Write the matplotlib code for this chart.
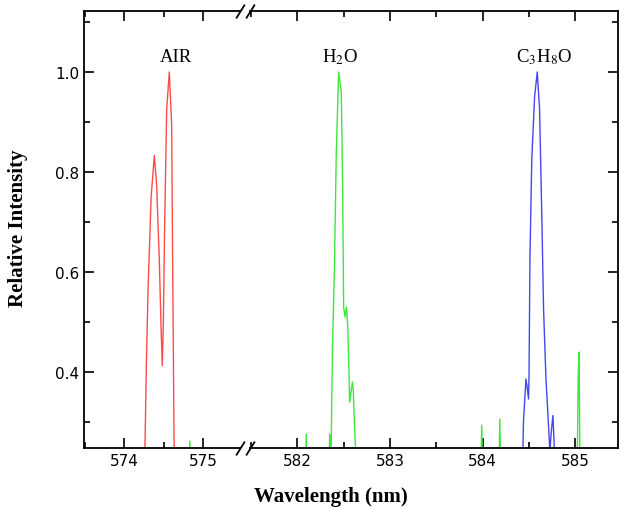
import matplotlib
matplotlib.use("Agg")
import matplotlib.pyplot as plt
from matplotlib.ticker import MultipleLocator

plt.rcParams['mathtext.fontset'] = 'stix'

# spectra (values below 0.25 sit under the axis and are clipped, like the original)
air_wl = [574.255, 574.262, 574.28, 574.30, 574.34, 574.38, 574.41, 574.443, 574.465,
          574.481, 574.494, 574.511, 574.537, 574.57, 574.60, 574.612, 574.63, 574.64]
air_int = [0.20, 0.25, 0.42, 0.56, 0.75, 0.833, 0.773, 0.626, 0.493,
           0.413, 0.493, 0.693, 0.926, 1.0, 0.893, 0.626, 0.266, 0.20]

h2o_wl = [574.82, 574.83, 574.84,
          582.09, 582.097, 582.105, 582.34, 582.35, 582.36,
          582.365, 582.38, 582.40, 582.42, 582.446, 582.475, 582.49, 582.50, 582.515,
          582.53, 582.545, 582.555, 582.565, 582.58, 582.595, 582.605, 582.62, 582.64,
          583.98, 583.99, 584.0, 584.175, 584.185, 584.195,
          585.02, 585.03, 585.04, 585.05]
h2o_int = [0.20, 0.262, 0.20,
           0.20, 0.276, 0.20, 0.20, 0.276, 0.22,
           0.24, 0.45, 0.60, 0.83, 1.0, 0.96, 0.76, 0.53, 0.51,
           0.53, 0.49, 0.42, 0.34, 0.36, 0.38, 0.36, 0.28, 0.20,
           0.20, 0.293, 0.20, 0.20, 0.306, 0.20,
           0.20, 0.39, 0.44, 0.20]

c3h8o_wl = [584.43, 584.44, 584.467, 584.48, 584.495, 584.50, 584.51, 584.53, 584.56,
            584.589, 584.614, 584.64, 584.657, 584.683, 584.72, 584.725, 584.74,
            584.758, 584.77, 584.78]
c3h8o_int = [0.20, 0.30, 0.386, 0.37, 0.346, 0.39, 0.626, 0.826, 0.95,
             1.0, 0.926, 0.693, 0.526, 0.386, 0.26, 0.24, 0.28,
             0.313, 0.26, 0.20]

labels = ['AIR', 'H$_2$O', 'C$_3$H$_8$O']
label_wl = [574.66, 582.46, 584.66]

W, H = 620, 510
fig = plt.figure(figsize=(6.2, 5.1), dpi=100)
bottom, top = 449, 12
ax1 = fig.add_axes([84 / W, (H - bottom) / H, (240 - 84) / W, (bottom - top) / H])
ax2 = fig.add_axes([250 / W, (H - bottom) / H, (618 - 250) / W, (bottom - top) / H])

series = [(air_wl, air_int, '#ff4a4a'),
          (h2o_wl, h2o_int, '#3ee63e'),
          (c3h8o_wl, c3h8o_int, '#4646f0')]
for ax in (ax1, ax2):
    for wl, it, c in series:
        ax.plot(wl, it, color=c, lw=1.0)
    ax.set_ylim(0.248, 1.122)
    ax.xaxis.set_major_locator(MultipleLocator(1))
    ax.xaxis.set_minor_locator(MultipleLocator(0.5))
    ax.yaxis.set_major_locator(MultipleLocator(0.2))
    ax.yaxis.set_minor_locator(MultipleLocator(0.1))
    ax.tick_params(which='both', direction='in', top=True, labelsize=11, width=1.2)
    ax.tick_params(which='major', length=7)
    ax.tick_params(which='minor', length=4)
    for s in ax.spines.values():
        s.set_linewidth(1.3)

ax1.set_xlim(573.49, 575.465)
ax2.set_xlim(581.49, 585.46)

ax1.spines['right'].set_visible(False)
ax1.tick_params(which='both', right=False)
ax1.yaxis.set_major_formatter(plt.FuncFormatter(lambda v, p: f'{v:.1f}'))

ax2.spines['left'].set_visible(False)
ax2.tick_params(which='both', left=False, right=True, labelleft=False)

# break marks
kw = dict(marker=[(-1, -1.6), (1, 1.6)], markersize=10, linestyle='none',
          color='k', mec='k', mew=1.3, clip_on=False)
ax1.plot([1, 1], [0, 1], transform=ax1.transAxes, **kw)
ax2.plot([0, 0], [0, 1], transform=ax2.transAxes, **kw)

# peak labels
ax1.text(label_wl[0], 1.022, labels[0], ha='center', va='baseline',
         fontsize=13.5, family='Liberation Serif')
for t, x in zip(labels[1:], label_wl[1:]):
    ax2.text(x, 1.022, t, ha='center', va='baseline', fontsize=13.5,
             family='Liberation Serif')

fig.text(331 / W, 1 - 497 / H, 'Wavelength (nm)', ha='center', va='center',
         fontsize=15, fontweight='bold', family='Liberation Serif')
fig.text(18 / W, 1 - 228 / H, 'Relative Intensity', ha='center', va='center',
         rotation=90, fontsize=15, fontweight='bold', family='Liberation Serif')

fig.savefig('out.png', dpi=100)
